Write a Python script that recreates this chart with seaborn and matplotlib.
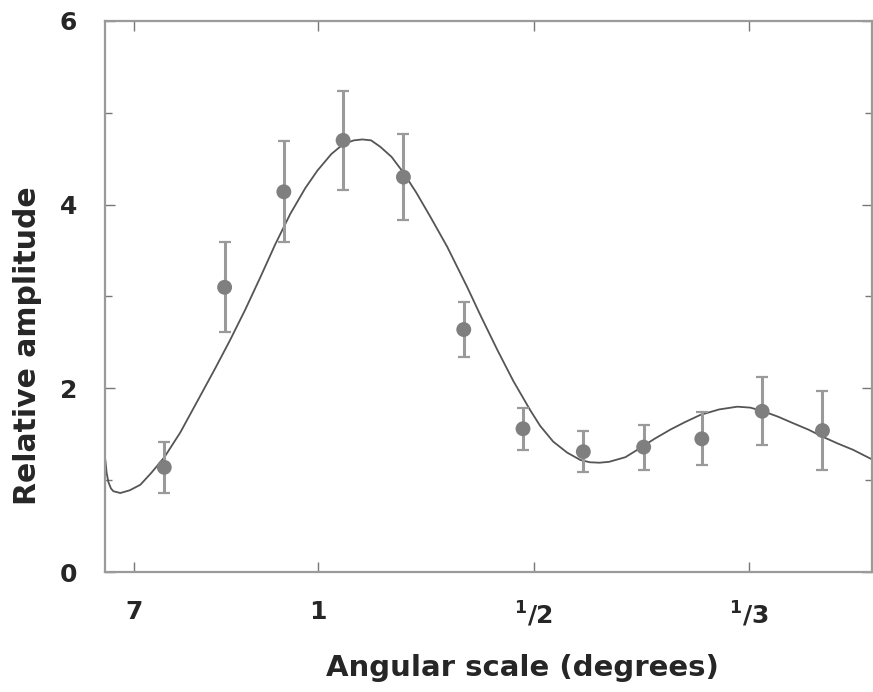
import matplotlib
matplotlib.use("Agg")
import matplotlib.pyplot as plt
import seaborn as sns
import pandas as pd

# measured band powers (x in multipole, angle = 200 / multipole)
multipole = [57, 113, 168, 223, 279, 335, 390, 446, 502, 556, 612, 668]
amplitude = [1.14, 3.10, 4.14, 4.70, 4.30, 2.64, 1.56, 1.31, 1.36, 1.45, 1.75, 1.54]
amp_err = [0.28, 0.49, 0.55, 0.54, 0.47, 0.30, 0.23, 0.22, 0.245, 0.29, 0.37, 0.43]

# model curve
curve_l = [2.3, 3.5, 5.1, 7.5, 9.7, 16.2, 25, 34.8, 45, 57.1, 71.9, 90.5, 104.4,
           118.3, 132.3, 146.2, 160.1, 174.0, 187.9, 199.1, 212, 223.2, 233,
           240.8, 249, 257.5, 268, 278.9, 291, 303.9, 319.7, 338.3, 350.3,
           366.1, 381.0, 396.8, 406.0, 418.0, 431, 443.2, 452, 461, 470, 485,
           498.8, 512, 526.7, 540, 554.5, 572, 588.9, 601, 613.0, 627, 640.8,
           655, 668.7, 682, 696.5, 715]
curve_amp = [1.22, 1.08, 0.98, 0.91, 0.88, 0.86, 0.89, 0.95, 1.08, 1.25, 1.52,
             1.92, 2.22, 2.53, 2.86, 3.21, 3.57, 3.90, 4.18, 4.37, 4.55, 4.66,
             4.70, 4.71, 4.70, 4.63, 4.52, 4.35, 4.13, 3.87, 3.54, 3.10, 2.80,
             2.42, 2.08, 1.76, 1.59, 1.42, 1.30, 1.22, 1.195, 1.19, 1.20, 1.25,
             1.35, 1.45, 1.55, 1.63, 1.71, 1.77, 1.80, 1.79, 1.75, 1.69, 1.62,
             1.55, 1.47, 1.40, 1.33, 1.22]

tick_pos = [200 / 7, 200, 400, 600]
tick_labels = ["7", "1", r"${}^{\mathbf{1}}\mathbf{/2}$", r"${}^{\mathbf{1}}\mathbf{/3}$"]

sns.set_style("ticks")
plt.rcParams["font.family"] = ["DejaVu Sans"]
plt.rcParams["mathtext.fontset"] = "dejavusans"

points = pd.DataFrame({"l": multipole, "amp": amplitude, "err": amp_err})
model = pd.DataFrame({"l": curve_l, "amp": curve_amp})

fig = plt.figure(figsize=(8.73, 6.92), dpi=100)
ax = fig.add_axes([0.1203, 0.1734, 0.8786, 0.7963])

sns.lineplot(data=model, x="l", y="amp", ax=ax, color="#555555", lw=1.3,
             sort=False, estimator=None)
ax.errorbar(points["l"], points["amp"], yerr=points["err"], fmt="none",
            ecolor="#9a9a9a", elinewidth=2.2, capsize=4, capthick=1.6, zorder=3)
sns.scatterplot(data=points, x="l", y="amp", ax=ax, color="#7f7f7f", s=115,
                edgecolor="none", zorder=4)

ax.set_xlim(2, 714)
ax.set_ylim(0, 6)
ax.set_xticks(tick_pos)
ax.set_xticklabels(tick_labels)
ax.set_yticks([0, 2, 4, 6])
ax.set_yticks([1, 3, 5], minor=True)
ax.set_xlabel("")
ax.set_ylabel("")

for side in ["left", "right", "top", "bottom"]:
    ax.spines[side].set_color("#9a9a9a")
    ax.spines[side].set_linewidth(1.6)

ax.tick_params(which="both", direction="in", top=True, right=True,
               color="#777777", width=1)
ax.tick_params(which="major", length=7)
ax.tick_params(which="minor", length=5)
ax.tick_params(axis="y", which="major", pad=20, labelsize=18)
ax.tick_params(axis="x", which="major", pad=20, labelsize=18)
for lab in ax.get_xticklabels() + ax.get_yticklabels():
    lab.set_fontweight("bold")

fig.text(0.598, 0.034, "Angular scale (degrees)", ha="center", va="center",
         fontsize=21, fontweight="bold")
fig.text(0.031, 0.50, "Relative amplitude", ha="center", va="center",
         fontsize=21.5, fontweight="bold", rotation=90)

fig.savefig("out.png", dpi=100)
